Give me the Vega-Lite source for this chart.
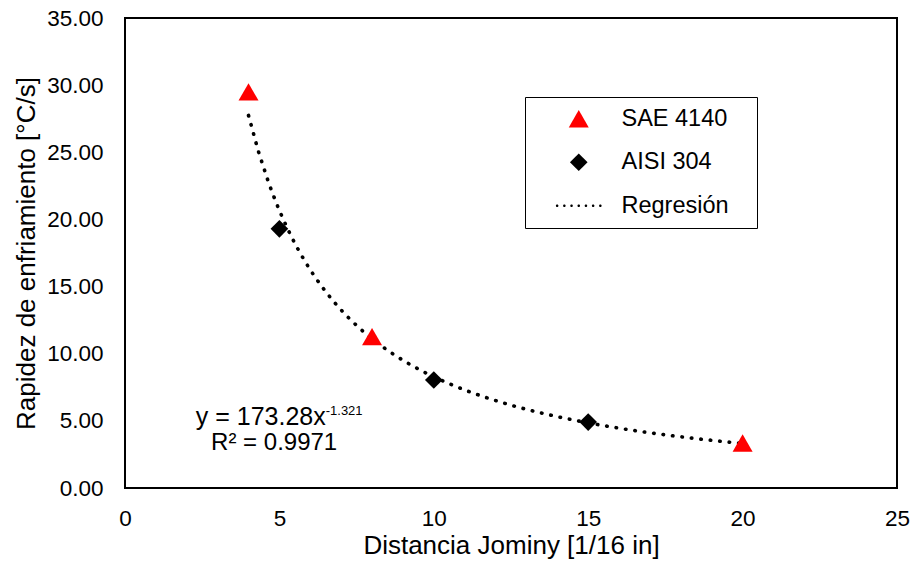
{
  "$schema": "https://vega.github.io/schema/vega-lite/v6.json",
  "width": 772,
  "height": 470,
  "autosize": {"type": "none"},
  "padding": {"left": 125, "top": 18, "right": 17, "bottom": 81},
  "background": "white",
  "config": {
    "font": "Liberation Sans",
    "view": {"stroke": "black", "strokeWidth": 2},
    "axis": {
      "grid": false, "ticks": false, "tickSize": 0, "domain": false, "labelFlush": false, "labelOverlap": false,
      "labelFont": "Liberation Sans", "labelFontSize": 22.5, "labelColor": "black",
      "titleFont": "Liberation Sans", "titleFontSize": 26, "titleFontWeight": "normal", "titleColor": "black"
    }
  },
  "data": {
    "values": [
      {"series": "SAE 4140", "dist": 4, "rate": 29.5},
      {"series": "AISI 304", "dist": 5, "rate": 19.3},
      {"series": "SAE 4140", "dist": 8, "rate": 11.27},
      {"series": "AISI 304", "dist": 10, "rate": 8.04},
      {"series": "AISI 304", "dist": 15, "rate": 4.91},
      {"series": "SAE 4140", "dist": 20, "rate": 3.35}
    ]
  },
  "layer": [
    {
      "transform": [{"regression": "rate", "on": "dist", "method": "pow", "extent": [4, 20]}],
      "mark": {"type": "line", "color": "black", "strokeWidth": 3.6, "strokeDash": [0.5, 9], "strokeCap": "round"},
      "encoding": {
        "x": {"field": "dist", "type": "quantitative", "scale": {"domain": [0, 25], "nice": false},
              "axis": {"values": [0, 5, 10, 15, 20, 25], "format": "d", "labelPadding": 19, "titlePadding": 3, "title": "Distancia Jominy [1/16 in]"}},
        "y": {"field": "rate", "type": "quantitative", "scale": {"domain": [0, 35], "nice": false},
              "axis": {"values": [0, 5, 10, 15, 20, 25, 30, 35], "format": ".2f", "labelPadding": 22, "titlePadding": 7, "title": "Rapidez de enfriamiento [°C/s]"}}
      }
    },
    {
      "mark": {"type": "point", "filled": true, "opacity": 1},
      "encoding": {
        "x": {"field": "dist", "type": "quantitative"},
        "y": {"field": "rate", "type": "quantitative"},
        "color": {
          "field": "series", "type": "nominal",
          "scale": {"domain": ["SAE 4140", "AISI 304", "Regresión"], "range": ["#FF0000", "#000000", "#000000"]},
          "legend": {
            "orient": "none", "legendX": 400, "legendY": 79, "title": null,
            "padding": 10, "strokeColor": "black", "fillColor": "white",
            "labelFont": "Liberation Sans", "labelFontSize": 23.5, "labelColor": "black",
            "symbolSize": 400, "symbolOffset": 32, "labelOffset": 31, "rowPadding": 18.5,
            "symbolStrokeWidth": 0,
            "labelExpr": "datum.label + '\u2800'",
            "encode": {
              "legend": {"update": {"strokeWidth": {"value": 1.5}}},
              "symbols": {"update": {"size": {"signal": "datum.value === 'SAE 4140' ? 225 : datum.value === 'AISI 304' ? 100 : 400"}}}
            }
          }
        },
        "shape": {
          "field": "series", "type": "nominal",
          "scale": {"domain": ["SAE 4140", "AISI 304", "Regresión"],
                    "range": ["triangle-up", "diamond", "M-3.05,0a0.17,0.17 0 1,0 0.34,0a0.17,0.17 0 1,0 -0.34,0M-2.09,0a0.17,0.17 0 1,0 0.34,0a0.17,0.17 0 1,0 -0.34,0M-1.13,0a0.17,0.17 0 1,0 0.34,0a0.17,0.17 0 1,0 -0.34,0M-0.17,0a0.17,0.17 0 1,0 0.34,0a0.17,0.17 0 1,0 -0.34,0M0.79,0a0.17,0.17 0 1,0 0.34,0a0.17,0.17 0 1,0 -0.34,0M1.75,0a0.17,0.17 0 1,0 0.34,0a0.17,0.17 0 1,0 -0.34,0M2.71,0a0.17,0.17 0 1,0 0.34,0a0.17,0.17 0 1,0 -0.34,0"]}
        },
        "size": {
          "field": "series", "type": "nominal",
          "scale": {"domain": ["SAE 4140", "AISI 304", "Regresión"], "range": [400, 225, 400]},
          "legend": null
        }
      }
    },
    {
      "data": {"values": [{"dist": 6.5, "rate": 4.69, "label": "y = 173.28x"}]},
      "mark": {"type": "text", "align": "right", "baseline": "alphabetic", "fontSize": 25, "font": "Liberation Sans", "color": "black"},
      "encoding": {"x": {"field": "dist", "type": "quantitative"}, "y": {"field": "rate", "type": "quantitative"}, "text": {"field": "label"}}
    },
    {
      "data": {"values": [{"dist": 6.5, "rate": 5.4, "label": "-1.321"}]},
      "mark": {"type": "text", "align": "left", "baseline": "alphabetic", "fontSize": 13, "font": "Liberation Sans", "color": "black"},
      "encoding": {"x": {"field": "dist", "type": "quantitative"}, "y": {"field": "rate", "type": "quantitative"}, "text": {"field": "label"}}
    },
    {
      "data": {"values": [{"dist": 4.83, "rate": 2.83, "label": "R² = 0.9971"}]},
      "mark": {"type": "text", "align": "center", "baseline": "alphabetic", "fontSize": 24, "font": "Liberation Sans", "color": "black"},
      "encoding": {"x": {"field": "dist", "type": "quantitative"}, "y": {"field": "rate", "type": "quantitative"}, "text": {"field": "label"}}
    }
  ]
}
